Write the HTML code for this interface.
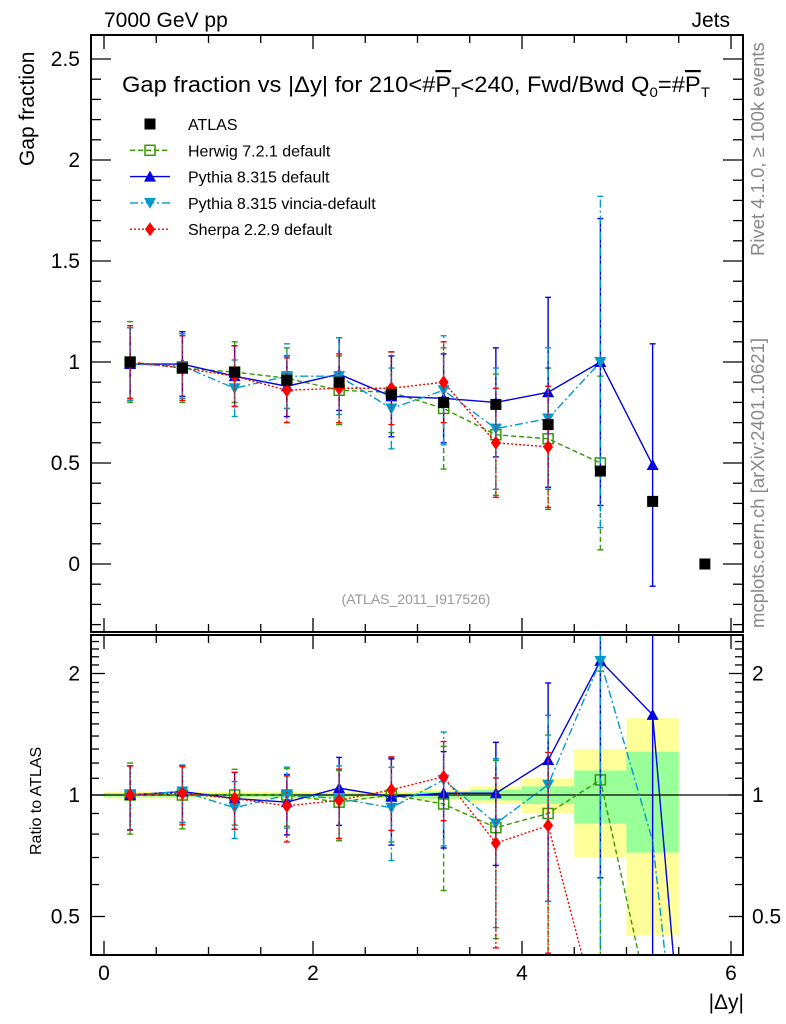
<!DOCTYPE html>
<html><head><meta charset="utf-8"><style>
html,body{margin:0;padding:0;background:#fff;width:786px;height:1024px;overflow:hidden}
svg{display:block}
svg text{font-family:"Liberation Sans",Arial,sans-serif}
</style></head><body>
<svg id="chart" width="786" height="1024" xmlns="http://www.w3.org/2000/svg">
<defs>
<clipPath id="clipTop"><rect x="91" y="35" width="652" height="597"/></clipPath>
<clipPath id="clipBot"><rect x="91" y="635" width="652" height="320"/></clipPath>
</defs>
<text x="104" y="27" font-size="21">7000 GeV pp</text>
<text x="730" y="27" font-size="21" text-anchor="end">Jets</text>
<text x="122" y="92" font-size="22" textLength="588" lengthAdjust="spacingAndGlyphs">Gap fraction vs |Δy| for 210&lt;#<tspan text-decoration="overline">P</tspan><tspan font-size="14" dy="5">T</tspan><tspan dy="-5">&lt;240, Fwd/Bwd Q</tspan><tspan font-size="14" dy="5">0</tspan><tspan dy="-5">=#</tspan><tspan text-decoration="overline">P</tspan><tspan font-size="14" dy="5">T</tspan></text>
<text transform="translate(34,166) rotate(-90)" font-size="21">Gap fraction</text>
<text transform="translate(41,855) rotate(-90)" font-size="16">Ratio to ATLAS</text>
<text x="744" y="1009" font-size="21" text-anchor="end">|Δy|</text>
<text transform="translate(764,256) rotate(-90)" font-size="18.5" fill="#888">Rivet 4.1.0, ≥ 100k events</text>
<text transform="translate(764,628) rotate(-90)" font-size="18.5" fill="#888">mcplots.cern.ch [arXiv:2401.10621]</text>
<text x="416" y="604" font-size="14" fill="#999" text-anchor="middle">(ATLAS_2011_I917526)</text>
<g id="bands" clip-path="url(#clipBot)"></g>
<g id="topMarks" clip-path="url(#clipTop)"></g>
<g id="botMarks" clip-path="url(#clipBot)"></g>
<g id="axes"></g>
<g id="legend"></g>
</svg>
<script>
const xCenters=[0.25,0.75,1.25,1.75,2.25,2.75,3.25,3.75,4.25,4.75,5.25,5.75];
const atlasVals=[1.0,0.97,0.95,0.91,0.90,0.84,0.80,0.79,0.69,0.46,0.31,0.0];
const bandYellow=[0.02,0.02,0.02,0.02,0.02,0.02,0.03,0.05,0.10,0.30,0.55];
const bandGreen=[0.01,0.01,0.01,0.01,0.01,0.01,0.02,0.03,0.05,0.15,0.28];
const herwigVals=[1.0,0.97,0.95,0.92,0.86,0.85,0.77,0.64,0.62,0.50];
const herwigErr=[0.2,0.17,0.15,0.15,0.17,0.2,0.3,0.3,0.35,0.43];
const herwigRatio=[1.0,1.0,1.0,1.0,0.96,1.0,0.95,0.83,0.90,1.09,0.28];
const pythiaVals=[0.99,0.99,0.93,0.88,0.94,0.83,0.82,0.80,0.85,1.0,0.49];
const pythiaErr=[0.18,0.16,0.15,0.15,0.18,0.2,0.22,0.27,0.47,0.71,0.6];
const pythiaRatio=[1.0,1.02,0.98,0.96,1.04,0.99,1.01,1.01,1.22,2.15,1.58,0.05];
const vinciaVals=[0.99,0.98,0.87,0.93,0.93,0.77,0.86,0.67,0.72,1.0];
const vinciaErr=[0.18,0.16,0.14,0.16,0.19,0.2,0.27,0.3,0.35,0.82];
const vinciaRatio=[1.0,1.02,0.93,1.0,0.98,0.93,1.09,0.85,1.06,2.15,0.77,0.05];
const sherpaVals=[1.0,0.97,0.93,0.86,0.87,0.87,0.90,0.60,0.58];
const sherpaErr=[0.18,0.16,0.15,0.16,0.17,0.18,0.2,0.27,0.3];
const sherpaRatio=[1.0,1.01,0.98,0.94,0.97,1.03,1.11,0.76,0.84,0.27];
const xTickLabels=[0,2,4,6];
const yTickLabels=[0,0.5,1,1.5,2,2.5];
const rTickLabels=[0.5,1,2];

const NS="http://www.w3.org/2000/svg";
const X=v=>104+v*104.5;
const Y=v=>564-v*202;
const R=v=>795-Math.log2(v)*121.5;
function mk(tag,attrs,parent){const e=document.createElementNS(NS,tag);for(const k in attrs)e.setAttribute(k,attrs[k]);parent.appendChild(e);return e;}
const axes=document.getElementById('axes'),top_=document.getElementById('topMarks'),bot=document.getElementById('botMarks'),bands=document.getElementById('bands'),leg=document.getElementById('legend');

for(let i=0;i<bandYellow.length;i++){
  const x0=X(xCenters[i]-0.25),w=104.5/2;
  let r=mk('rect',{x:x0,y:R(1+bandYellow[i]),width:w,height:R(Math.max(1-bandYellow[i],0.01))-R(1+bandYellow[i]),fill:'#ffff99'},bands);
  
  
  let g=mk('rect',{x:x0,y:R(1+bandGreen[i]),width:w,height:R(1-bandGreen[i])-R(1+bandGreen[i]),fill:'#99ff99'},bands);
  
  
}
let one=mk('line',{x1:91,x2:743,y1:R(1),y2:R(1),stroke:'#000','stroke-width':1.3},bands);



function marker(type,cx,cy,color,parent){
  let e;
  if(type==='sq')e=mk('rect',{x:cx-5.5,y:cy-5.5,width:11,height:11,fill:color},parent);
  else if(type==='osq')e=mk('rect',{x:cx-5,y:cy-5,width:10,height:10,fill:'none',stroke:color,'stroke-width':1.5},parent);
  else if(type==='tu')e=mk('polygon',{points:`${cx-6},${cy+5} ${cx+6},${cy+5} ${cx},${cy-6}`,fill:color},parent);
  else if(type==='td')e=mk('polygon',{points:`${cx-6},${cy-5} ${cx+6},${cy-5} ${cx},${cy+6}`,fill:color},parent);
  else e=mk('polygon',{points:`${cx-5},${cy} ${cx},${cy-7} ${cx+5},${cy} ${cx},${cy+7}`,fill:color},parent);
  return e;
}
const series=[
 {name:'herwig',vals:herwigVals,err:herwigErr,ratio:herwigRatio,color:'#339900',dash:'5,3',m:'osq',label:'Herwig 7.2.1 default'},
 {name:'pythia',vals:pythiaVals,err:pythiaErr,ratio:pythiaRatio,color:'#0000e6',dash:'',m:'tu',label:'Pythia 8.315 default'},
 {name:'vincia',vals:vinciaVals,err:vinciaErr,ratio:vinciaRatio,color:'#0099cc',dash:'8,3,2,3',m:'td',label:'Pythia 8.315 vincia-default'},
 {name:'sherpa',vals:sherpaVals,err:sherpaErr,ratio:sherpaRatio,color:'#ff0000',dash:'2,2',m:'dia',label:'Sherpa 2.2.9 default'}
];
series.forEach(s=>{
  let pts=s.vals.map((v,i)=>X(xCenters[i])+','+Y(v)).join(' ');
  let l=mk('polyline',{points:pts,fill:'none',stroke:s.color,'stroke-width':1.4,'stroke-dasharray':s.dash},top_);
  
  
  s.vals.forEach((v,i)=>{
    const x=X(xCenters[i]);
    let e=mk('line',{x1:x,x2:x,y1:Y(v-s.err[i]),y2:Y(v+s.err[i]),stroke:s.color,'stroke-width':1.4,'stroke-dasharray':s.dash},top_);
    
    
    [v-s.err[i],v+s.err[i]].forEach(c=>mk('line',{x1:x-3,x2:x+3,y1:Y(c),y2:Y(c),stroke:s.color,'stroke-width':1.4},top_));
    let m=marker(s.m,x,Y(v),s.color,top_);
    
    
  });
  let rp=s.ratio.map((v,i)=>X(xCenters[i])+','+R(v)).join(' ');
  let rl=mk('polyline',{points:rp,fill:'none',stroke:s.color,'stroke-width':1.4,'stroke-dasharray':s.dash},bot);
  
  
  s.vals.forEach((v,i)=>{
    const r=s.ratio[i],x=X(xCenters[i]);const re=s.err[i]/atlasVals[i]*(r/(v/atlasVals[i]||1));
    const lo=Math.max(r-re,0.01),hi=r+re;
    let e=mk('line',{x1:x,x2:x,y1:R(lo),y2:R(hi),stroke:s.color,'stroke-width':1.4,'stroke-dasharray':s.dash},bot);
    
    
    [lo,hi].forEach(c=>mk('line',{x1:x-3,x2:x+3,y1:R(c),y2:R(c),stroke:s.color,'stroke-width':1.4},bot));
    let m=marker(s.m,x,R(r),s.color,bot);
    
    
  });
});
atlasVals.forEach((v,i)=>{
  let m=marker('sq',X(xCenters[i]),Y(v),'#000',top_);
  
  
});

[[91,35,652,597],[91,635,652,320]].forEach(f=>{
  let r=mk('rect',{x:f[0],y:f[1],width:f[2],height:f[3],fill:'none',stroke:'#000','stroke-width':2},axes);
  
  
});
for(let v=0;v<=6.01;v+=0.5){
  const x=X(v),major=Math.abs(v-Math.round(v/2)*2)<0.01,len=major?14:8;
  [[35,1],[632,-1],[635,1],[955,-1]].forEach(([y,d])=>mk('line',{x1:x,x2:x,y1:y,y2:y+d*len,stroke:'#000','stroke-width':1.3},axes));
}
xTickLabels.forEach(v=>{let t=mk('text',{x:X(v),y:980,'font-size':21,'text-anchor':'middle'},axes);t.textContent=v;
  });
for(let v=-0.3;v<=2.6;v+=0.1){
  const vv=Math.round(v*10)/10;const y=Y(vv);if(y<35||y>632)continue;
  const major=Math.abs(vv*2-Math.round(vv*2))<0.01,len=major?20:10;
  mk('line',{x1:91,x2:91+len,y1:y,y2:y,stroke:'#000','stroke-width':1.3},axes);
  mk('line',{x1:743,x2:743-len,y1:y,y2:y,stroke:'#000','stroke-width':1.3},axes);
}
yTickLabels.forEach(v=>{let t=mk('text',{x:80,y:Y(v)+7,'font-size':21,'text-anchor':'end'},axes);t.textContent=v;
  });
const rt=[0.4,0.5,0.6,0.7,0.8,0.9,1,1.1,1.2,1.3,1.4,1.5,1.6,1.7,1.8,1.9,2,2.1,2.2,2.3,2.4,2.5];
rt.forEach(v=>{const y=R(v);if(y<635||y>955)return;const major=[0.5,1,2].includes(v),len=major?14:8;
  mk('line',{x1:91,x2:91+len,y1:y,y2:y,stroke:'#000','stroke-width':1.3},axes);
  mk('line',{x1:743,x2:743-len,y1:y,y2:y,stroke:'#000','stroke-width':1.3},axes);});
rTickLabels.forEach(v=>{
  let t=mk('text',{x:80,y:R(v)+7,'font-size':21,'text-anchor':'end'},axes);t.textContent=v;
  
  let t2=mk('text',{x:752,y:R(v)+7,'font-size':21},axes);t2.textContent=v;
  
});
const legRows=[{m:'sq',c:'#000',label:'ATLAS',dash:null}].concat(series.map(s=>({m:s.m,c:s.color,label:s.label,dash:s.dash})));
legRows.forEach((r,i)=>{
  const y=124+i*26.3;
  const g=mk('g',{},leg);
  
  
  if(r.dash!==null)mk('line',{x1:130,x2:170,y1:y,y2:y,stroke:r.c,'stroke-width':1.4,'stroke-dasharray':r.dash},g);
  marker(r.m,150,y,r.c,g);
  const t=mk('text',{x:188,y:y+6,'font-size':16},g);t.textContent=r.label;
});
</script>
</body></html>
